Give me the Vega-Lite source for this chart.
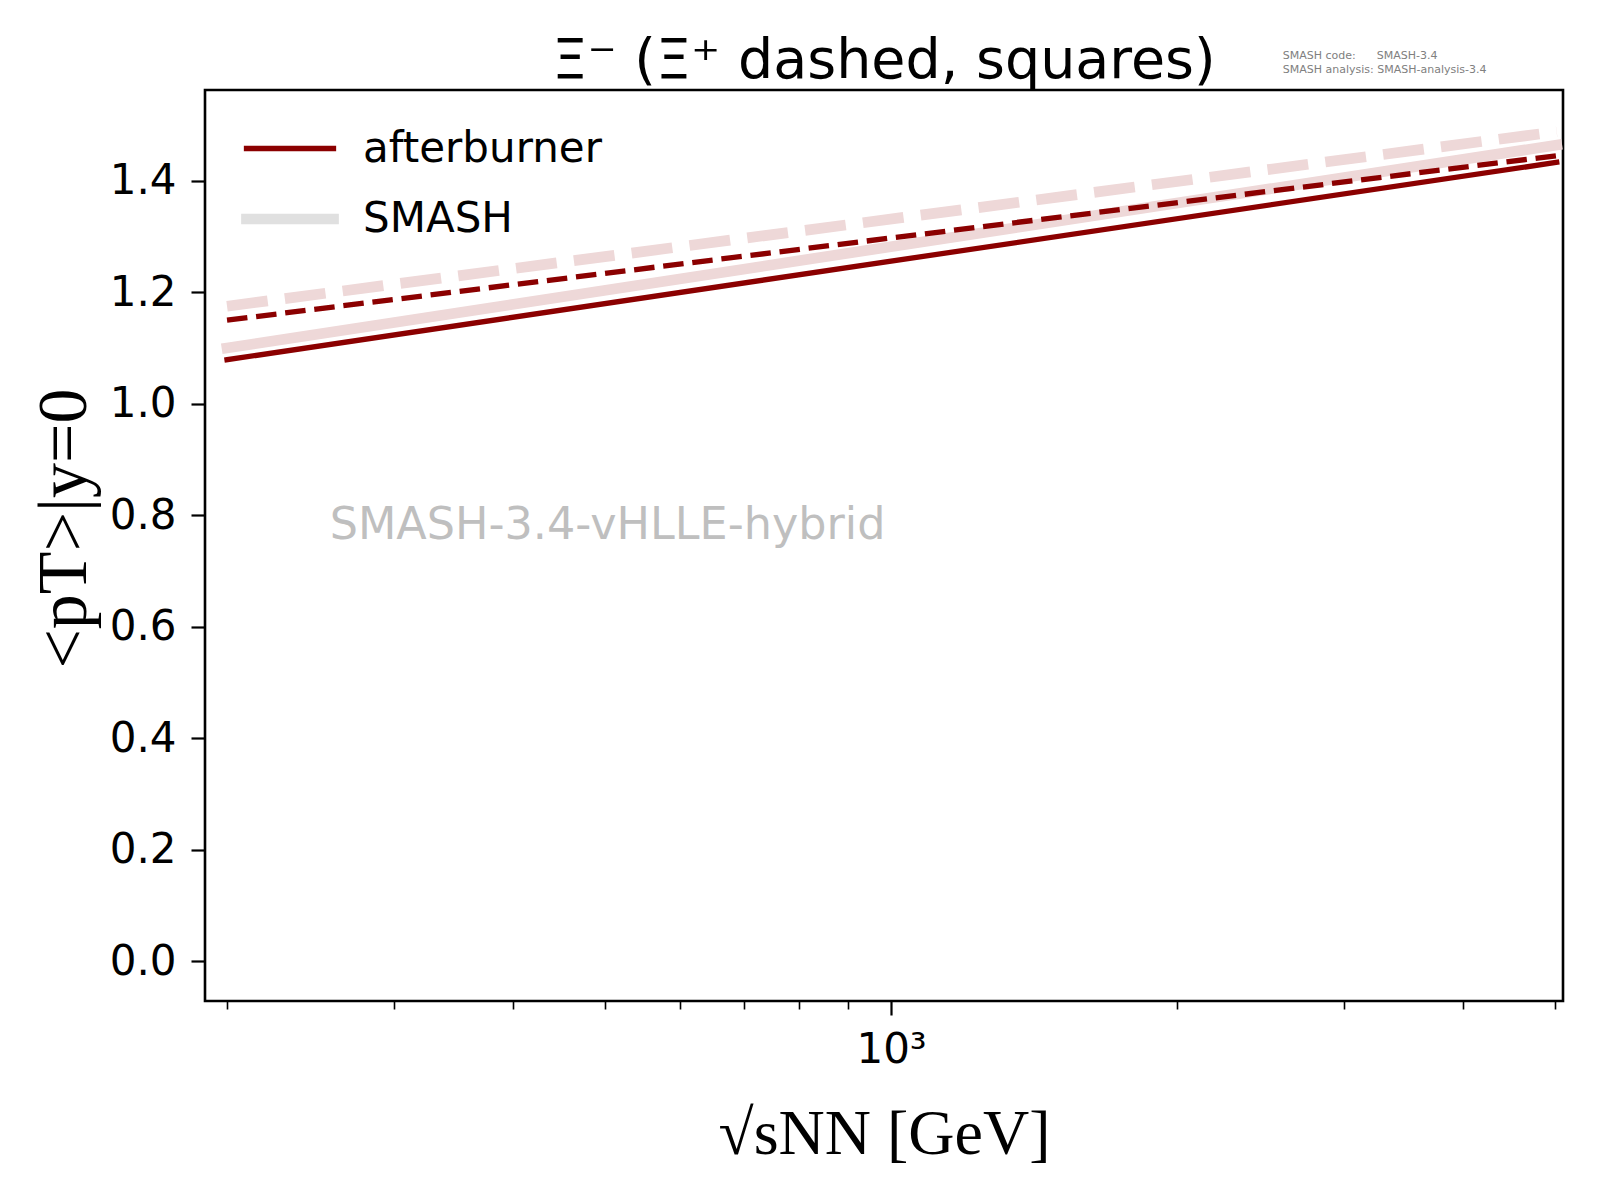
{
  "$schema": "https://vega.github.io/schema/vega-lite/v6.json",
  "width": 1358,
  "height": 911,
  "autosize": {"type": "none"},
  "padding": {"left": 205, "top": 90, "right": 37, "bottom": 199},
  "background": "white",
  "title": {
    "text": "Ξ⁻ (Ξ⁺ dashed, squares)",
    "font": "DejaVu Sans",
    "fontSize": 55.5,
    "fontWeight": "normal",
    "color": "black",
    "anchor": "middle",
    "baseline": "alphabetic",
    "offset": -83
  },
  "datasets": {
    "curves": [
      {"model": "SMASH", "particle": "Xi-", "series": "SMASH Xi-", "sqrt_s": 200, "mean_pt": 1.100},
      {"model": "SMASH", "particle": "Xi-", "series": "SMASH Xi-", "sqrt_s": 5020, "mean_pt": 1.464},
      {"model": "SMASH", "particle": "Xi+", "series": "SMASH Xi+", "sqrt_s": 200, "mean_pt": 1.175},
      {"model": "SMASH", "particle": "Xi+", "series": "SMASH Xi+", "sqrt_s": 5020, "mean_pt": 1.488},
      {"model": "afterburner", "particle": "Xi-", "series": "afterburner Xi-", "sqrt_s": 200, "mean_pt": 1.079},
      {"model": "afterburner", "particle": "Xi-", "series": "afterburner Xi-", "sqrt_s": 5020, "mean_pt": 1.433},
      {"model": "afterburner", "particle": "Xi+", "series": "afterburner Xi+", "sqrt_s": 200, "mean_pt": 1.150},
      {"model": "afterburner", "particle": "Xi+", "series": "afterburner Xi+", "sqrt_s": 5020, "mean_pt": 1.445}
    ]
  },
  "encoding": {
    "x": {
      "field": "sqrt_s",
      "type": "quantitative",
      "scale": {"type": "log", "domain": [189.6, 5097], "nice": false},
      "axis": {
        "orient": "bottom",
        "values": [200, 300, 400, 500, 600, 700, 800, 900, 1000, 2000, 3000, 4000, 5000],
        "labelExpr": "datum.value === 1000 ? '10³' : ''",
        "tickSize": {"condition": {"test": "datum.value === 1000", "value": 14}, "value": 8},
        "tickWidth": {"condition": {"test": "datum.value === 1000", "value": 2.2}, "value": 1.6},
        "tickColor": "black",
        "labelFont": "DejaVu Sans",
        "labelFontSize": 42,
        "labelColor": "black",
        "labelPadding": 14,
        "labelFlush": false,
        "labelOverlap": false,
        "title": "√sNN [GeV]",
        "titleFont": "Liberation Serif",
        "titleFontSize": 64,
        "titleFontWeight": "normal",
        "titleColor": "black",
        "titleBaseline": "alphabetic",
        "titleY": 152
      }
    },
    "y": {
      "field": "mean_pt",
      "type": "quantitative",
      "scale": {"domain": [-0.0714, 1.5628], "nice": false, "zero": false},
      "axis": {
        "values": [0, 0.2, 0.4, 0.6, 0.8, 1.0, 1.2, 1.4],
        "format": ".1f",
        "tickSize": 14,
        "tickWidth": 2.2,
        "tickColor": "black",
        "labelFont": "DejaVu Sans",
        "labelFontSize": 42,
        "labelColor": "black",
        "labelPadding": 15,
        "title": "<pT>|y=0",
        "titleFont": "Liberation Serif",
        "titleFontSize": 70,
        "titleFontWeight": "normal",
        "titleColor": "black",
        "titleAngle": -90,
        "titleAlign": "center",
        "titleBaseline": "alphabetic",
        "titleX": -120,
        "titleY": 438
      }
    }
  },
  "layer": [
    {
      "data": {"name": "curves"},
      "transform": [{"filter": "datum.particle === 'Xi-'"}],
      "mark": {"type": "line", "strokeCap": "square"},
      "encoding": {
        "color": {
          "field": "series",
          "type": "nominal",
          "scale": {
            "domain": ["SMASH Xi-", "SMASH Xi+", "afterburner Xi-", "afterburner Xi+"],
            "range": ["#eed8d8", "#eed8d8", "#8b0000", "#8b0000"]
          },
          "legend": null
        },
        "strokeWidth": {
          "field": "model",
          "type": "nominal",
          "scale": {"domain": ["afterburner", "SMASH"], "range": [5.3, 10.7]},
          "legend": {
            "title": null,
            "orient": "none",
            "legendX": 36,
            "legendY": 12,
            "padding": 0,
            "symbolType": "stroke",
            "symbolSize": 7569,
            "labelFont": "DejaVu Sans",
            "labelFontSize": 42,
            "labelColor": "black",
            "labelLimit": 0,
            "labelOffset": 24,
            "rowPadding": -40,
            "encode": {
              "symbols": {
                "update": {
                  "stroke": {"signal": "datum.value === 'SMASH' ? '#e0e0e0' : '#8b0000'"},
                  "strokeCap": {"value": "square"},
                  "opacity": {"value": 1}
                }
              }
            }
          }
        }
      }
    },
    {
      "data": {"name": "curves"},
      "transform": [{"filter": "datum.particle === 'Xi+'"}],
      "mark": {"type": "line", "strokeCap": "butt"},
      "encoding": {
        "color": {
          "field": "series",
          "type": "nominal",
          "scale": {
            "domain": ["SMASH Xi-", "SMASH Xi+", "afterburner Xi-", "afterburner Xi+"],
            "range": ["#eed8d8", "#eed8d8", "#8b0000", "#8b0000"]
          },
          "legend": null
        },
        "strokeWidth": {
          "field": "model",
          "type": "nominal",
          "scale": {"domain": ["afterburner", "SMASH"], "range": [5.3, 10.7]},
          "legend": {
            "title": null,
            "orient": "none",
            "legendX": 36,
            "legendY": 12,
            "padding": 0,
            "symbolType": "stroke",
            "symbolSize": 7569,
            "labelFont": "DejaVu Sans",
            "labelFontSize": 42,
            "labelColor": "black",
            "labelLimit": 0,
            "labelOffset": 24,
            "rowPadding": -40,
            "encode": {
              "symbols": {
                "update": {
                  "stroke": {"signal": "datum.value === 'SMASH' ? '#e0e0e0' : '#8b0000'"},
                  "strokeCap": {"value": "square"},
                  "opacity": {"value": 1}
                }
              }
            }
          }
        },
        "strokeDash": {
          "field": "series",
          "type": "nominal",
          "scale": {"domain": ["afterburner Xi+", "SMASH Xi+"], "range": [[20.5, 8.8], [41, 17.3]]},
          "legend": null
        }
      }
    },
    {
      "data": {"values": [{"sqrt_s": 256.5, "mean_pt": 0.757, "label": "SMASH-3.4-vHLLE-hybrid"}]},
      "mark": {"type": "text", "align": "left", "baseline": "alphabetic", "font": "DejaVu Sans", "fontSize": 44.5, "color": "#bfbfbf"},
      "encoding": {"text": {"field": "label"}}
    },
    {
      "data": {
        "values": [
          {"sqrt_s": 2584, "mean_pt": 1.618, "label": "SMASH code:\u00a0\u00a0\u00a0\u00a0\u00a0\u00a0SMASH-3.4"},
          {"sqrt_s": 2584, "mean_pt": 1.594, "label": "SMASH analysis:\u00a0SMASH-analysis-3.4"}
        ]
      },
      "mark": {"type": "text", "align": "left", "baseline": "alphabetic", "font": "DejaVu Sans", "fontSize": 11, "color": "#808080"},
      "encoding": {"text": {"field": "label"}}
    }
  ],
  "config": {
    "font": "DejaVu Sans",
    "view": {"stroke": "black", "strokeWidth": 2.6},
    "axis": {"grid": false, "domain": false}
  }
}
